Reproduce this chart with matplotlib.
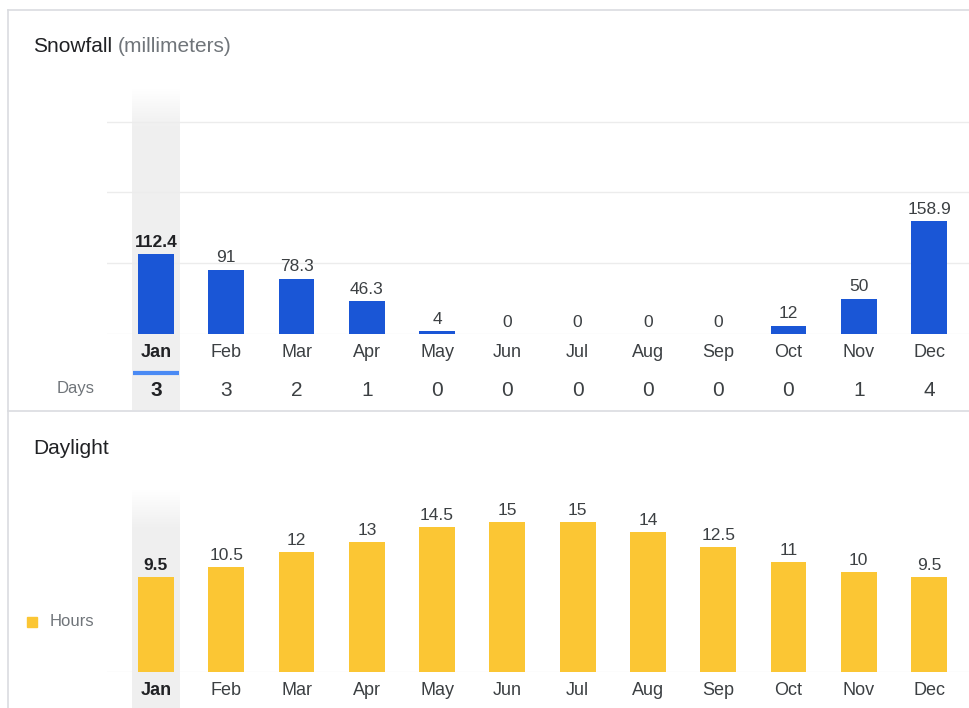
import numpy as np
import matplotlib
matplotlib.use("Agg")
import matplotlib.pyplot as plt
from matplotlib.patches import Rectangle
from matplotlib.transforms import blended_transform_factory

plt.rcParams['font.family'] = ['Liberation Sans', 'DejaVu Sans']

months = ["Jan", "Feb", "Mar", "Apr", "May", "Jun", "Jul", "Aug", "Sep", "Oct", "Nov", "Dec"]
snowfall_mm = [112.4, 91, 78.3, 46.3, 4, 0, 0, 0, 0, 12, 50, 158.9]
snow_days = [3, 3, 2, 1, 0, 0, 0, 0, 0, 0, 1, 4]
daylight_hours = [9.5, 10.5, 12, 13, 14.5, 15, 15, 14, 12.5, 11, 10, 9.5]
snow_grid = [100, 200, 300]
highlight = 0  # Jan

W, H = 969, 708
fig = plt.figure(figsize=(W / 100, H / 100), dpi=100)

BLUE = "#1a56d6"
YELLOW = "#fbc634"
DARK = "#202124"
MID = "#3c4043"
GRAY = "#70757a"
LINE = "#dadce0"

def rect(x0, y0, x1, y1):
    return [x0 / W, 1 - y1 / H, (x1 - x0) / W, (y1 - y0) / H]

bg = fig.add_axes([0, 0, 1, 1], zorder=0)
bg.set_xlim(0, W)
bg.set_ylim(H, 0)
bg.axis("off")

bg.plot([8, W], [10, 10], color=LINE, lw=1.2)
bg.plot([8, 8], [10, H], color=LINE, lw=1.2)
bg.plot([8, W], [411, 411], color=LINE, lw=1.2)

def grad_band(x0, x1, y0, y1, fade=40, color=(0.94, 0.94, 0.94)):
    n = 60
    img = np.ones((n, 2, 4))
    img[..., :3] = color
    ys = np.linspace(y0, y1, n)
    alpha = np.clip((ys - y0) / fade, 0, 1)
    img[..., 3] = alpha[:, None]
    bg.imshow(img, extent=[x0, x1, y1, y0], aspect="auto", interpolation="bilinear", zorder=0)

grad_band(132, 180, 86, 410)
grad_band(132, 180, 488, H)
bg.set_xlim(0, W)
bg.set_ylim(H, 0)

bg.text(33, 46, "Snowfall", fontsize=15, color=DARK, va="center", ha="left")
bg.text(118, 46, "(millimeters)", fontsize=15, color=GRAY, va="center", ha="left")
bg.text(33, 448, "Daylight", fontsize=15, color=DARK, va="center", ha="left")

bg.add_patch(Rectangle((27, 617), 10, 10, color=YELLOW))
bg.text(50, 622, "Hours", fontsize=12, color=GRAY, va="center", ha="left")

bg.text(76, 389, "Days", fontsize=12, color=GRAY, va="center", ha="center")

x = np.arange(len(months))
xc0, dx = 156, (929 - 156) / 11
xl = (107 - xc0) / dx
xr = (W - xc0) / dx

def fmt(v):
    return f"{v:g}"

# ---- Snowfall
ax1 = fig.add_axes(rect(107, 85, W, 334), zorder=2)
ax1.patch.set_alpha(0)
px_per_mm = 0.708
ax1.set_xlim(xl, xr)
ax1.set_ylim(0, (334 - 85) / px_per_mm)
for g in snow_grid:
    ax1.axhline(g, color="#ececec", lw=1, zorder=0)
ax1.axhline(0, color="#f0f0f0", lw=1, zorder=0)
bars1 = ax1.bar(x, snowfall_mm, width=0.51, color=BLUE, zorder=2)
labels1 = ax1.bar_label(bars1, labels=[fmt(v) for v in snowfall_mm], padding=3,
                        fontsize=12.5, color=MID)
labels1[highlight].set_fontweight("bold")
labels1[highlight].set_color(DARK)
for s in ax1.spines.values():
    s.set_visible(False)
ax1.set_yticks([])
ax1.set_xticks(x)
ax1.set_xticklabels(months, fontsize=13, color=MID)
ax1.tick_params(axis="x", length=0, pad=7)
ax1.get_xticklabels()[highlight].set_fontweight("bold")
ax1.get_xticklabels()[highlight].set_color(DARK)

tr = blended_transform_factory(ax1.transData, bg.transData)
for i, d in enumerate(snow_days):
    bg.text(i, 390, str(d), transform=tr, fontsize=15, ha="center", va="center",
            color=DARK if i == highlight else MID,
            fontweight="bold" if i == highlight else "normal")
bg.plot([highlight - 0.33, highlight + 0.33], [373, 373], transform=tr,
        color="#4a8af4", lw=3, solid_capstyle="butt")

# ---- Daylight
ax2 = fig.add_axes(rect(107, 490, W, 672), zorder=2)
ax2.patch.set_alpha(0)
px_per_hr = 10
ax2.set_xlim(xl, xr)
ax2.set_ylim(0, (672 - 490) / px_per_hr)
ax2.axhline(0, color="#f0f0f0", lw=1, zorder=0)
bars2 = ax2.bar(x, daylight_hours, width=0.51, color=YELLOW, zorder=2)
labels2 = ax2.bar_label(bars2, labels=[fmt(v) for v in daylight_hours], padding=3,
                        fontsize=12.5, color=MID)
labels2[highlight].set_fontweight("bold")
labels2[highlight].set_color(DARK)
for s in ax2.spines.values():
    s.set_visible(False)
ax2.set_yticks([])
ax2.set_xticks(x)
ax2.set_xticklabels(months, fontsize=13, color=MID)
ax2.tick_params(axis="x", length=0, pad=7)
ax2.get_xticklabels()[highlight].set_fontweight("bold")
ax2.get_xticklabels()[highlight].set_color(DARK)

fig.savefig("out.png", dpi=100)
